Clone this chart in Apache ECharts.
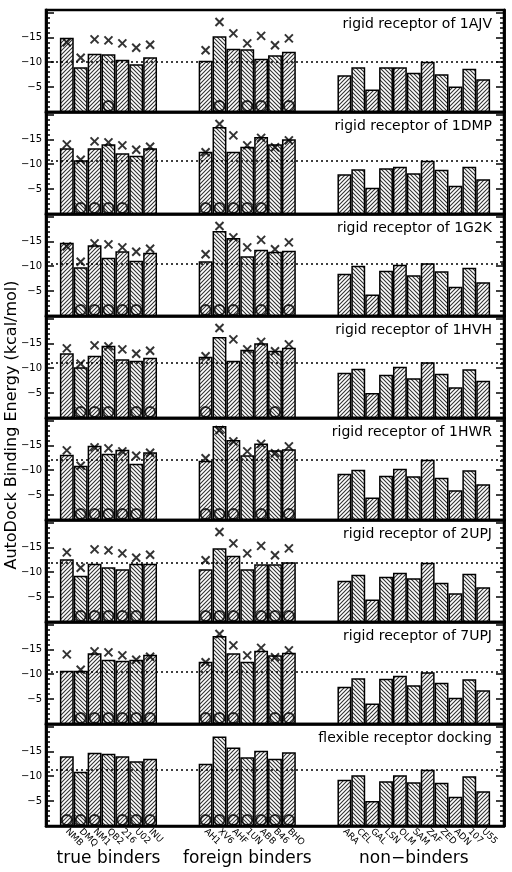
<!DOCTYPE html>
<html><head><meta charset="utf-8">
<script src="https://cdn.jsdelivr.net/npm/echarts@6/dist/echarts.min.js"></script>
<style>html,body{margin:0;padding:0;background:#fff}#c{width:512px;height:872px}</style>
</head><body><div id="c"></div>
<script>
// ---------------- DATA ----------------
const TRUE_BINDERS = ['NMB','DMQ','NM1','QB2','216','U02','INU'];
const FOREIGN_BINDERS = ['AH1','XV6','AHF','1UN','ABB','B46','BHO'];
const NON_BINDERS = ['ARA','CEL','GAL','LSN','OLM','SAM','ZAF','ZED','ADN','107','U55'];
const GROUP_NAMES = ['true binders','foreign binders','non\u2212binders'];
const Y_AXIS_TITLE = 'AutoDock Binding Energy (kcal/mol)';
const Y_TICK_LABELS = [-5, -10, -15];
const PANEL_TITLES = ['rigid receptor of 1AJV','rigid receptor of 1DMP','rigid receptor of 1G2K','rigid receptor of 1HVH',
  'rigid receptor of 1HWR','rigid receptor of 2UPJ','rigid receptor of 7UPJ','flexible receptor docking'];
// dotted reference line per panel
const THRESHOLDS = [-10.1, -10.7, -10.6, -11.2, -12.2, -11.9, -10.5, -11.3];
// x marks: experimental energies of true + foreign binders (same in every rigid panel)
const EXPERIMENTAL = [-14.0, -10.9, -14.6, -14.4, -13.8, -12.9, -13.5,
                      -12.4, -18.1, -15.8, -13.8, -15.3, -13.4, -14.8];
const SHOW_EXPERIMENTAL = [true, true, true, true, true, true, true, false];
const CIRCLE_LEVEL = -1.2;
// docked energies: 7 true binders, 7 foreign binders, 11 non-binders
const E_1AJV = [-14.9, -9.0, -11.7, -11.6, -10.5, -9.6, -11.0,  -10.3, -15.2, -12.7, -12.6, -10.7, -11.4, -12.1,
                -7.4, -9.0, -4.5, -9.0, -9.0, -7.9, -10.1, -7.6, -5.1, -8.7, -6.6];
const E_1DMP = [-13.2, -10.8, -13.2, -14.0, -12.2, -11.7, -13.2,  -12.5, -17.5, -12.5, -13.5, -15.5, -14.0, -15.0,
                -8.0, -9.0, -5.3, -9.2, -9.5, -8.2, -10.7, -8.9, -5.7, -9.5, -7.0];
const E_1G2K = [-14.7, -9.8, -14.2, -11.7, -13.0, -11.1, -12.7,  -11.0, -17.1, -15.7, -12.0, -13.3, -12.9, -13.1,
                -8.5, -10.1, -4.3, -9.1, -10.3, -8.2, -10.6, -9.0, -5.9, -9.7, -6.8];
const E_1HVH = [-13.0, -10.2, -12.5, -14.5, -11.8, -11.5, -12.1,  -12.3, -16.3, -11.5, -13.7, -15.0, -13.5, -14.1,
                -9.1, -9.9, -5.0, -8.7, -10.3, -8.0, -11.2, -8.9, -6.2, -9.8, -7.5];
const E_1HWR = [-13.1, -10.9, -14.9, -13.3, -14.1, -11.3, -13.6,  -11.9, -18.9, -16.1, -13.0, -15.4, -14.0, -14.2,
                -9.3, -10.1, -4.5, -8.9, -10.3, -8.8, -12.1, -8.5, -6.0, -10.0, -7.2];
const E_2UPJ = [-12.6, -9.3, -11.7, -11.0, -10.6, -11.7, -11.7,  -10.6, -14.8, -13.3, -10.6, -11.6, -11.6, -12.0,
                -8.3, -9.5, -4.5, -9.1, -9.9, -8.8, -11.9, -7.9, -5.8, -9.7, -7.0];
const E_7UPJ = [-10.7, -10.7, -14.2, -12.9, -12.7, -12.9, -13.9,  -12.5, -17.7, -14.2, -12.5, -14.7, -13.8, -14.3,
                -7.5, -9.2, -4.1, -9.1, -9.7, -7.8, -10.4, -8.3, -5.3, -9.0, -6.8];
const E_FLEX = [-14.0, -10.9, -14.7, -14.5, -14.0, -13.0, -13.5,  -12.5, -18.0, -15.8, -13.8, -15.1, -13.5, -14.8,
                -9.3, -10.2, -5.0, -9.0, -10.2, -8.8, -11.3, -8.7, -5.9, -10.0, -7.0];
// ligands marked with a circle in each panel
const C_1AJV = ['QB2','XV6','1UN','ABB','BHO'];
const C_1DMP = ['DMQ','NM1','QB2','216','AH1','XV6','AHF','1UN','ABB'];
const C_1G2K = ['DMQ','NM1','QB2','216','U02','AH1','XV6','AHF','ABB','BHO'];
const C_1HVH = ['DMQ','NM1','QB2','U02','INU','AH1','B46'];
const C_1HWR = ['DMQ','NM1','QB2','216','U02','AH1','XV6','AHF','ABB','BHO'];
const C_2UPJ = ['DMQ','NM1','QB2','216','U02','AH1','XV6','AHF','ABB','B46','BHO'];
const C_7UPJ = ['DMQ','NM1','QB2','216','U02','INU','AH1','XV6','AHF','B46','BHO'];
const C_FLEX = ['NMB','DMQ','NM1','216','U02','INU','AH1','XV6','AHF','1UN','ABB','B46','BHO'];

const PANEL_ENERGIES = [E_1AJV, E_1DMP, E_1G2K, E_1HVH, E_1HWR, E_2UPJ, E_7UPJ, E_FLEX];
const PANEL_CIRCLES = [C_1AJV, C_1DMP, C_1G2K, C_1HVH, C_1HWR, C_2UPJ, C_7UPJ, C_FLEX];

// ---------------- LAYOUT / STYLE ----------------
const FONT = 'DejaVu Sans';
const GL = 46, GR = 8, TOP0 = 10, PH = 102;
const YMAX = 20.5;

function hatch(dir) {
  const s = 4, c = document.createElement('canvas');
  c.width = c.height = s;
  const g = c.getContext('2d');
  g.fillStyle = '#fff'; g.fillRect(0, 0, s, s);
  g.strokeStyle = '#333'; g.lineWidth = 1.1;
  g.beginPath();
  if (dir > 0) { g.moveTo(0, s); g.lineTo(s, 0); g.moveTo(-1, 1); g.lineTo(1, -1); g.moveTo(s - 1, s + 1); g.lineTo(s + 1, s - 1); }
  else { g.moveTo(0, 0); g.lineTo(s, s); g.moveTo(-1, s - 1); g.lineTo(1, s + 1); g.moveTo(s - 1, -1); g.lineTo(s + 1, 1); }
  g.stroke();
  return c;
}
const PAT = [{ image: hatch(1), repeat: 'repeat' }, { image: hatch(-1), repeat: 'repeat' }];

const GROUPS = [TRUE_BINDERS, FOREIGN_BINDERS, NON_BINDERS];
const SLOTS = [''].concat(TRUE_BINDERS, ['', '', ''], FOREIGN_BINDERS, ['', '', ''], NON_BINDERS, ['']);
const LIGANDS = TRUE_BINDERS.concat(FOREIGN_BINDERS, NON_BINDERS);
const CROSS = 'path://M0,0L10,10M0,10L10,0';

const grids = [], xAxes = [], yAxes = [], series = [], titles = [];
const N = PANEL_TITLES.length;
for (let p = 0; p < N; p++) {
  const top = TOP0 + p * PH;
  grids.push({ left: GL, right: GR, top: top, height: PH, show: true, borderColor: '#000', borderWidth: 2.5, backgroundColor: 'transparent' });
  const last = p === N - 1;
  xAxes.push({
    type: 'category', gridIndex: p, data: SLOTS, boundaryGap: true,
    axisLine: { show: true, lineStyle: { color: '#000', width: 2.5 } },
    axisTick: { show: false },
    axisLabel: { show: last, interval: 0, rotate: -45, fontSize: 9, fontFamily: FONT, color: '#000', margin: 4 },
    splitLine: { show: false }
  });
  const base = yAxes.length;
  const mk = (pos, interval, len, labels) => ({
    type: 'value', gridIndex: p, position: pos, min: 0, max: YMAX, interval: interval,
    axisLine: { show: true, lineStyle: { color: '#000', width: 2.5 } },
    axisTick: { show: true, inside: true, length: len, lineStyle: { color: '#000', width: 1.5 } },
    axisLabel: labels ? { show: true, fontSize: 10, fontFamily: FONT, color: '#000', margin: 4,
      formatter: v => Y_TICK_LABELS.indexOf(-v) >= 0 ? '\u2212' + v : '' } : { show: false },
    splitLine: { show: false }
  });
  yAxes.push(mk('left', 5, 8, true), mk('left', 1, 4, false), mk('right', 5, 8, false), mk('right', 1, 4, false));

  const E = PANEL_ENERGIES[p];
  const barData = SLOTS.map(name => {
    if (!name) return '-';
    const li = LIGANDS.indexOf(name);
    const grp = GROUPS.find(g => g.indexOf(name) >= 0);
    const k = grp.indexOf(name);
    return { value: -E[li], itemStyle: { color: PAT[k % 2] } };
  });
  series.push({
    type: 'bar', xAxisIndex: p, yAxisIndex: base, data: barData, barWidth: '100%', barGap: '0%',
    itemStyle: { borderColor: '#000', borderWidth: 1.5 }, z: 2, silent: true,
    markLine: { symbol: 'none', silent: true, label: { show: false }, z: 5,
      lineStyle: { type: [2, 3], color: '#000', width: 1.5 }, data: [{ yAxis: -THRESHOLDS[p] }] }
  });
  if (SHOW_EXPERIMENTAL[p]) {
    const xd = TRUE_BINDERS.concat(FOREIGN_BINDERS).map((n, i) => [SLOTS.indexOf(n), -EXPERIMENTAL[i]]);
    series.push({ type: 'scatter', xAxisIndex: p, yAxisIndex: base, data: xd, symbol: CROSS, symbolSize: 8, z: 6,
      itemStyle: { color: 'none', borderColor: '#000', borderWidth: 2 }, silent: true });
  }
  const cd = PANEL_CIRCLES[p].map(n => [SLOTS.indexOf(n), -CIRCLE_LEVEL]);
  series.push({ type: 'scatter', xAxisIndex: p, yAxisIndex: base, data: cd, symbol: 'circle', symbolSize: 10, z: 6,
    itemStyle: { color: 'rgba(0,0,0,0)', borderColor: '#000', borderWidth: 2 }, silent: true });
  titles.push({ text: PANEL_TITLES[p], right: 20, top: top + 7, padding: 0,
    textStyle: { fontFamily: FONT, fontSize: 14, fontWeight: 'normal', color: '#000' } });
}

const slotW = (512 - GL - GR) / SLOTS.length;
const groupCenters = GROUPS.map(g => GL + slotW * (SLOTS.indexOf(g[0]) + g.length / 2));
const graphics = GROUP_NAMES.map((t, i) => ({
  type: 'text', x: groupCenters[i], y: 859,
  style: { text: t, font: '17px "DejaVu Sans"', fill: '#000', align: 'center', verticalAlign: 'middle', textAlign: 'center', textVerticalAlign: 'middle' }
}));
graphics.push({ type: 'text', x: 12, y: 425, rotation: Math.PI / 2,
  style: { text: Y_AXIS_TITLE, font: '16px "DejaVu Sans"', fill: '#000', align: 'center', verticalAlign: 'middle', textAlign: 'center', textVerticalAlign: 'middle' } });

const chart = echarts.init(document.getElementById('c'), null, { renderer: 'canvas' });
chart.setOption({
  animation: false, backgroundColor: '#fff',
  title: titles, grid: grids, xAxis: xAxes, yAxis: yAxes, series: series, graphic: graphics
});
</script></body></html>
